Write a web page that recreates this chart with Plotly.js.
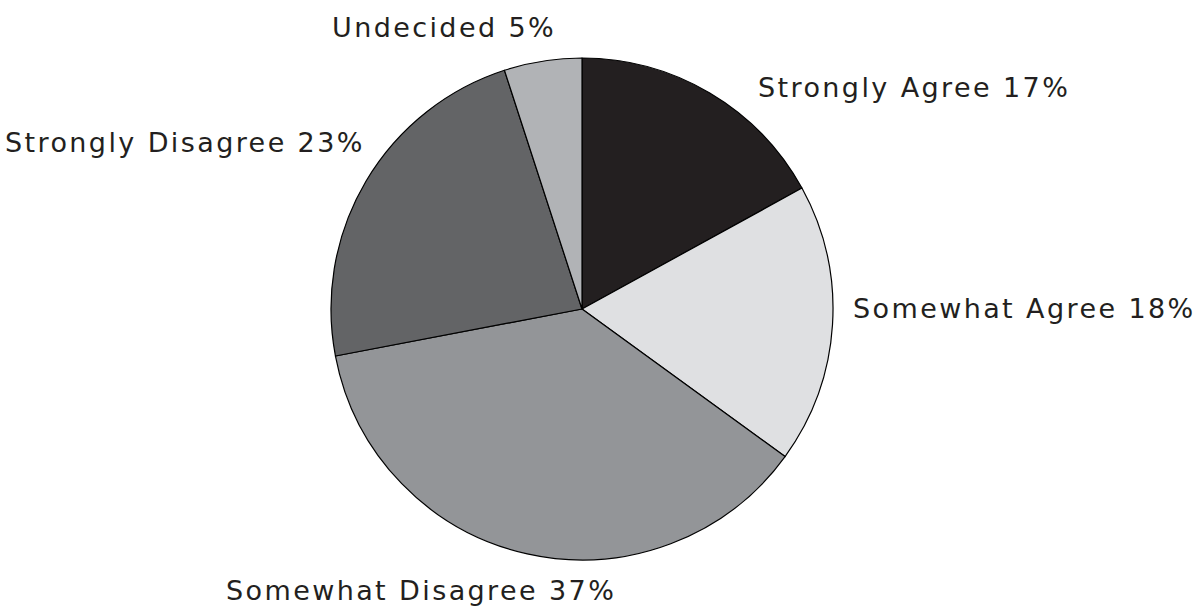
<!DOCTYPE html>
<html>
<head>
<meta charset="utf-8">
<script src="https://cdn.plot.ly/plotly-3.0.1.min.js"></script>
<style>
html,body{margin:0;padding:0;background:#fff;}
#chart{width:1196px;height:607px;}
text.annotation-text{letter-spacing:2.4px;}
</style>
</head>
<body>
<div id="chart"></div>
<script>
const categories = ["Strongly Agree", "Somewhat Agree", "Somewhat Disagree", "Strongly Disagree", "Undecided"];
const percents = [17, 18, 37, 23, 5];
const sliceColors = ["#231f20", "#dfe0e2", "#939598", "#636466", "#b1b3b6"];

const W = 1196, H = 607;
const cx = 582, cy = 309, r = 251;

// label placement (pixels) and anchors
const labelPos = [
  {x: 756, y: 88, anchor: "left"},
  {x: 851, y: 308, anchor: "left"},
  {x: 421, y: 590, anchor: "center"},
  {x: 367, y: 143, anchor: "right"},
  {x: 444, y: 28, anchor: "center"}
];

const annotations = categories.map((c, i) => ({
  text: c + " " + percents[i] + "%",
  x: labelPos[i].x / W,
  y: 1 - labelPos[i].y / H,
  xref: "paper", yref: "paper",
  xanchor: labelPos[i].anchor, yanchor: "middle",
  showarrow: false,
  font: {family: "DejaVu Sans, sans-serif", size: 27, color: "#231f20"}
}));

const data = [{
  type: "pie",
  labels: categories,
  values: percents,
  sort: false,
  direction: "clockwise",
  rotation: 0,
  marker: {colors: sliceColors, line: {color: "#000000", width: 1.2}},
  textinfo: "none",
  hoverinfo: "label+percent",
  domain: {x: [(cx - r) / W, (cx + r) / W], y: [(H - cy - r) / H, (H - cy + r) / H]}
}];

const layout = {
  width: W, height: H,
  margin: {l: 0, r: 0, t: 0, b: 0},
  paper_bgcolor: "#ffffff",
  showlegend: false,
  annotations: annotations
};

Plotly.newPlot("chart", data, layout, {displayModeBar: false, staticPlot: true});
</script>
</body>
</html>
